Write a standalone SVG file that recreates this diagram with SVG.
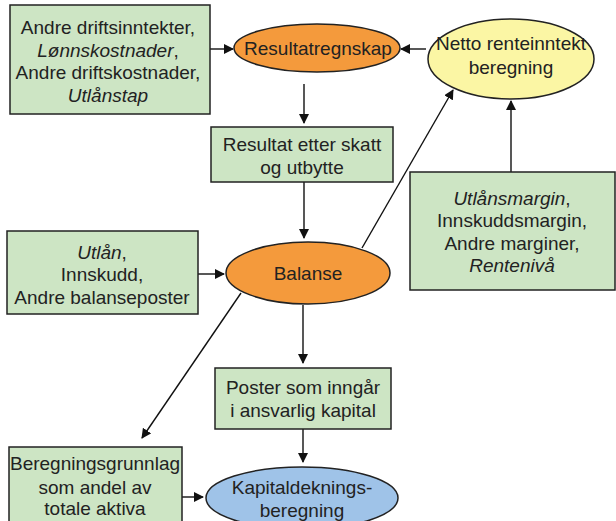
<svg xmlns="http://www.w3.org/2000/svg" width="616" height="521" viewBox="0 0 616 521">
<defs>
<style>
.box{fill:#cde5c4;stroke:#222;stroke-width:1.5}
.or{fill:#f49a3c;stroke:#222;stroke-width:1.5}
.ye{fill:#fbf6a4;stroke:#222;stroke-width:1.5}
.bl{fill:#9fc3e8;stroke:#222;stroke-width:1.5}
text{font-family:"Liberation Sans",Arial,sans-serif;font-size:19px;fill:#222;text-anchor:middle}
.i{font-style:italic}
.c{stroke:#111;stroke-width:1.4;fill:none;marker-end:url(#ah)}
</style>
<marker id="ah" markerWidth="10" markerHeight="10" refX="9" refY="5" orient="auto" markerUnits="userSpaceOnUse">
<path d="M0,0 L10,5 L0,10 Z" fill="#111"/>
</marker>
</defs>
<rect width="616" height="521" fill="#fff"/>
<g id="connectors">
<line class="c" x1="210" y1="49" x2="233" y2="49"/>
<line class="c" x1="426" y1="49" x2="401" y2="49"/>
<line class="c" x1="304" y1="84" x2="304" y2="123"/>
<line class="c" x1="304" y1="182" x2="304" y2="238"/>
<line class="c" x1="198" y1="274" x2="224" y2="274"/>
<line class="c" x1="511" y1="172" x2="511" y2="101"/>
<line class="c" x1="362" y1="248" x2="453" y2="90"/>
<line class="c" x1="303" y1="305" x2="303" y2="363"/>
<line class="c" x1="241" y1="293" x2="142" y2="438"/>
<line class="c" x1="303" y1="429" x2="303" y2="462"/>
<line class="c" x1="182" y1="497" x2="203" y2="497"/>
</g>
<g id="box-drift">
<rect class="box" x="10" y="5" width="200" height="109"/>
<text x="108" y="34">Andre driftsinntekter,</text>
<text x="108" y="57"><tspan class="i">Lønnskostnader</tspan>,</text>
<text x="108" y="79">Andre driftskostnader,</text>
<text x="108" y="102" class="i">Utlånstap</text>
</g>
<g id="resultatregnskap">
<ellipse class="or" cx="317" cy="48" rx="83" ry="24"/>
<text x="318" y="55">Resultatregnskap</text>
</g>
<g id="netto">
<ellipse class="ye" cx="511" cy="59" rx="83" ry="40"/>
<text x="511" y="50">Netto renteinntekt</text>
<text x="511" y="74">beregning</text>
</g>
<g id="resultat-etter">
<rect class="box" x="211" y="127" width="182" height="55"/>
<text x="302" y="151">Resultat etter skatt</text>
<text x="302" y="174">og utbytte</text>
</g>
<g id="marginer">
<rect class="box" x="410" y="172" width="205" height="118"/>
<text x="512" y="205"><tspan class="i">Utlånsmargin</tspan>,</text>
<text x="512" y="227">Innskuddsmargin,</text>
<text x="512" y="250">Andre marginer,</text>
<text x="512" y="272" class="i">Rentenivå</text>
</g>
<g id="balanseposter">
<rect class="box" x="7" y="231" width="191" height="83"/>
<text x="102" y="259"><tspan class="i">Utlån</tspan>,</text>
<text x="102" y="281">Innskudd,</text>
<text x="102" y="304">Andre balanseposter</text>
</g>
<g id="balanse">
<ellipse class="or" cx="308" cy="273" rx="82" ry="31"/>
<text x="308" y="280">Balanse</text>
</g>
<g id="poster">
<rect class="box" x="215" y="368" width="176" height="61"/>
<text x="303" y="394">Poster som inngår</text>
<text x="303" y="417">i ansvarlig kapital</text>
</g>
<g id="beregningsgrunnlag">
<rect class="box" x="9" y="447" width="173" height="80"/>
<text x="95" y="470">Beregningsgrunnlag</text>
<text x="95" y="494">som andel av</text>
<text x="95" y="515">totale aktiva</text>
</g>
<g id="kapitaldekning">
<ellipse class="bl" cx="302" cy="498" rx="96" ry="31"/>
<text x="302" y="494">Kapitaldeknings-</text>
<text x="302" y="517">beregning</text>
</g>
</svg>
